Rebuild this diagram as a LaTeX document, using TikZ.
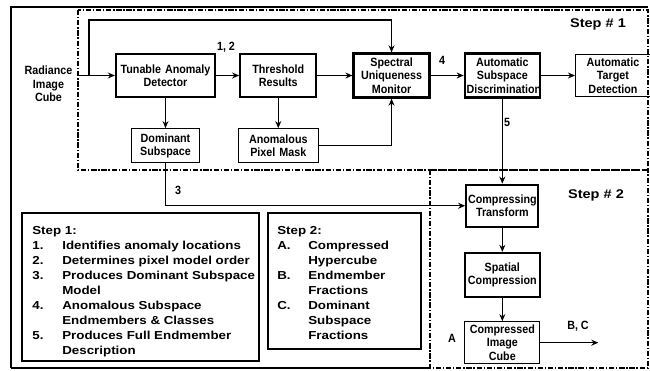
\documentclass[tikz,border=0pt]{standalone}
\usepackage{fontspec}
\setmainfont{Liberation Sans}
\newfontfamily\boxfont[FakeStretch=0.9]{Liberation Sans}
\newfontfamily\legfont[FakeStretch=1.15]{Liberation Sans}
\usetikzlibrary{arrows.meta,positioning}

\begin{document}
\begin{tikzpicture}[x=0.02cm, y=-0.02cm,
  font=\boxfont\bfseries\fontsize{6.8}{7.6}\selectfont,
  blk/.style={draw, line width=1.3pt, align=center, inner sep=1pt, minimum height=0.86cm},
  sub/.style={draw, line width=0.6pt, align=center, inner sep=1pt, minimum height=0.68cm},
  arr/.style={-{Stealth[length=4pt,width=3.4pt]}, line width=0.7pt},
  lbl/.style={inner sep=0pt},
  steptitle/.style={inner sep=0pt, font=\legfont\bfseries\fontsize{7.2}{8}\selectfont},
  legtext/.style={anchor=north west, inner sep=0pt, align=left, font=\legfont\bfseries\fontsize{6.6}{8.5}\selectfont},
  legframe/.style={line width=1.2pt},
  outerline/.style={line width=1.1pt},
  stepline/.style={line width=0.6pt, dash pattern=on 3pt off 1pt on 0.8pt off 1pt}]
  \useasboundingbox (0,0) rectangle (650,370);

  % frames
  \draw[outerline] (648,7) -- (11,7) -- (11,368);
  \draw[line width=0.6pt] (11,368) -- (430,368);
  \draw[stepline] (78,10) rectangle (648,170);
  \draw[stepline] (430,170) rectangle (648,368);
  \node[steptitle] (s1) at (598,24) {Step \# 1};
  \node[steptitle] (s2) at (596,195) {Step \# 2};

  % step 1 chain
  \node[lbl, align=center, inner xsep=0.1cm] (rad) at (48.5,84) {Radiance\\Image\\Cube};
  \node[blk, text width=1.91cm] (tad) at (165.5,75.5) {Tunable Anomaly\\Detector};
  \node[blk, text width=1.45cm, right=0.46cm of tad] (thr) {Threshold\\Results};
  \node[blk, text width=1.45cm, minimum height=0.88cm, right=0.7cm of thr] (sum) {Spectral\\Uniqueness\\Monitor};
  \node[blk, text width=1.43cm, minimum height=0.88cm, right=0.66cm of sum] (asd) {Automatic\\Subspace\\Discrimination};
  \node[sub, text width=1.43cm, minimum height=0.84cm, right=0.68cm of asd] (atd) {Automatic\\Target\\Detection};
  \node[sub, text width=1.29cm, below=0.6cm of tad] (dom) {Dominant\\Subspace};
  \node[sub, text width=1.53cm, below=0.6cm of thr] (apm) {Anomalous\\Pixel Mask};

  % step 2 chain
  \node[blk, text width=1.37cm, minimum height=0.84cm, below=1.7cm of asd] (ct) {Compressing\\Transform};
  \node[blk, text width=1.43cm, minimum height=0.88cm, below=0.48cm of ct] (sc) {Spatial\\Compression};
  \node[sub, text width=1.43cm, minimum height=0.84cm, below=0.46cm of sc] (cic) {Compressed\\Image\\Cube};

  % labels
  \node[lbl] (l12) at (226,47) {1, 2};
  \node[lbl] (l4) at (442,60) {4};
  \node[lbl] (l5) at (507,122) {5};
  \node[lbl] (l3) at (178,190) {3};
  \node[lbl] (la) at (452,338) {A};
  \node[lbl] (lbc) at (578,326) {B, C};

  % connectors
  \coordinate (split) at (89,75.5);
  \coordinate (loop) at (89,20);
  \draw[arr] (rad.east |- tad) -- (tad);
  \draw[arr] (split) -- (loop) -| (sum);
  \draw[arr] (tad) -- (thr);
  \draw[arr] (thr) -- (sum);
  \draw[arr] (sum) -- (asd);
  \draw[arr] (asd) -- (atd);
  \draw[arr] (tad) -- (dom);
  \draw[arr] (thr) -- (apm);
  \draw[arr] (apm) -| (sum);
  \draw[arr] (asd) -- (ct);
  \draw[arr] (dom) |- (ct);
  \draw[arr] (ct) -- (sc);
  \draw[arr] (sc) -- (cic);
  \coordinate[right=1.16cm of cic.east] (out);
  \draw[arr] (cic) -- (out);

  % legends
  \node[legtext] (leg1) at (32,224) {\begin{tabular}{@{}p{0.6cm}@{}l@{}}
    \multicolumn{2}{@{}l@{}}{Step 1:}\\
    1. & Identifies anomaly locations\\
    2. & Determines pixel model order\\
    3. & Produces Dominant Subspace\\
       & Model\\
    4. & Anomalous Subspace\\
       & Endmembers \& Classes\\
    5. & Produces Full Endmember\\
       & Description
  \end{tabular}};
  \node[legtext] (leg2) at (277,224) {\begin{tabular}{@{}p{0.62cm}@{}l@{}}
    \multicolumn{2}{@{}l@{}}{Step 2:}\\
    A. & Compressed\\
       & Hypercube\\
    B. & Endmember\\
       & Fractions\\
    C. & Dominant\\
       & Subspace\\
       & Fractions
  \end{tabular}};
  \draw[legframe] (22,213) rectangle (259,361);
  \draw[legframe] (268,213) rectangle (421,349);
\end{tikzpicture}
\end{document}
